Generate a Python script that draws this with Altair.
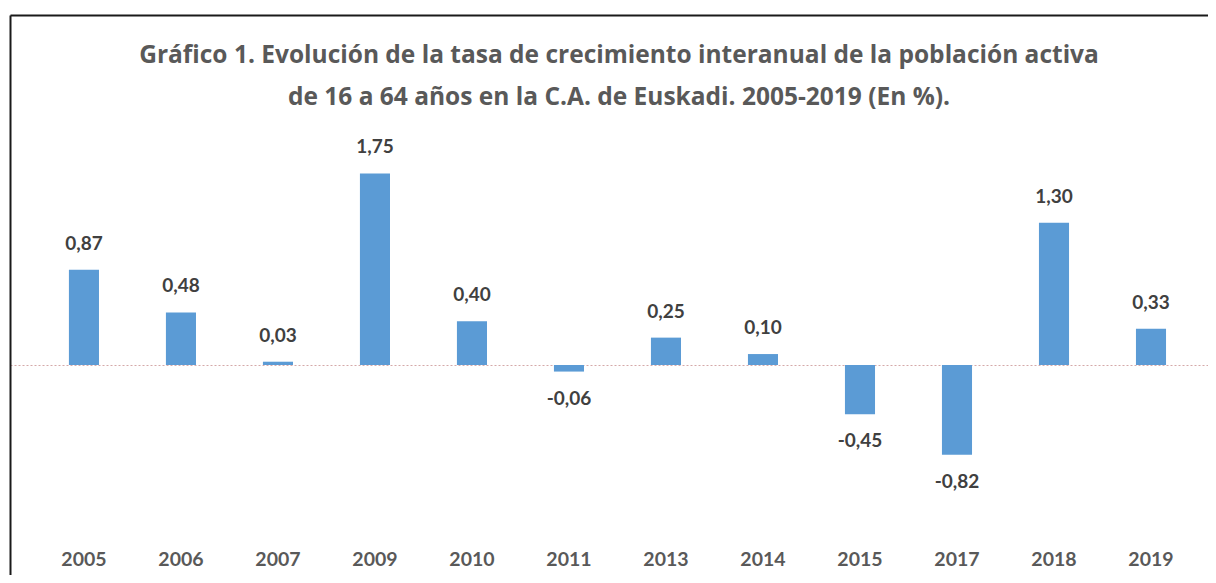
import altair as alt
import pandas as pd

years = ["2005", "2006", "2007", "2009", "2010", "2011", "2013", "2014", "2015", "2017", "2018", "2019"]
values = [0.87, 0.48, 0.03, 1.75, 0.40, -0.06, 0.25, 0.10, -0.45, -0.82, 1.30, 0.33]
title_lines = [
    "Gráfico 1. Evolución de la tasa de crecimiento interanual de la población activa",
    "de 16 a 64 años en la C.A.  de Euskadi. 2005-2019 (En %).",
]

df = pd.DataFrame({"year": years, "v": values})

W, H = 1198, 560
FONT = "Lato"
ZERO_Y = 350
PX_PER_UNIT = 109.5

xscale = alt.Scale(paddingInner=0.69, paddingOuter=0.52, align=0.584)
yscale = alt.Scale(domain=[-(H - ZERO_Y) / PX_PER_UNIT, ZERO_Y / PX_PER_UNIT], nice=False, zero=False)

x = alt.X("year:N", sort=years, scale=xscale,
          axis=alt.Axis(title=None, orient="top", labelAngle=0, domain=True,
                        domainColor="#1a1a1a", domainWidth=2, ticks=False, tickSize=0,
                        labelPadding=-544, labelBaseline="middle", labelFont=FONT,
                        labelFontSize=19.5, labelFontWeight="bold", labelColor="#595959"))
y = alt.Y("v:Q", scale=yscale,
          axis=alt.Axis(title=None, orient="left", values=[0], grid=True,
                        gridColor="#d4a9a9", gridDash=[2, 2], gridWidth=1,
                        labels=False, ticks=False, tickSize=0, domain=True,
                        domainColor="#1a1a1a", domainWidth=2))

base = alt.Chart(df).transform_calculate(
    lab="(datum.v < 0 ? '-' : '') + replace(format(abs(datum.v), '.2f'), '.', ',')"
)

bars = base.mark_bar(color="#5b9bd5").encode(x=x, y=y, y2=alt.datum(0))

pos = base.transform_filter("datum.v >= 0").mark_text(
    dy=-26, baseline="middle", font=FONT, fontSize=19, fontWeight="bold", color="#404040"
).encode(x=x, y=y, text="lab:N")

neg = base.transform_filter("datum.v < 0").mark_text(
    dy=27, baseline="middle", font=FONT, fontSize=19, fontWeight="bold", color="#404040"
).encode(x=x, y=y, text="lab:N")

chart = alt.layer(bars, pos, neg).properties(
    width=W, height=H,
    autosize=alt.AutoSizeParams(type="none"),
    padding={"left": 2, "top": 7, "right": 0, "bottom": 0},
    title=alt.Title(text=title_lines, font="Open Sans", fontSize=24.5, fontWeight="bold",
                    color="#595959", anchor="middle", frame="group", offset=-95,
                    lineHeight=42, dx=10),
).configure_view(fill="#f2f2f2", stroke="transparent").configure(background="white")

chart.save("out.html", embed_options={"renderer": "svg", "actions": False})
